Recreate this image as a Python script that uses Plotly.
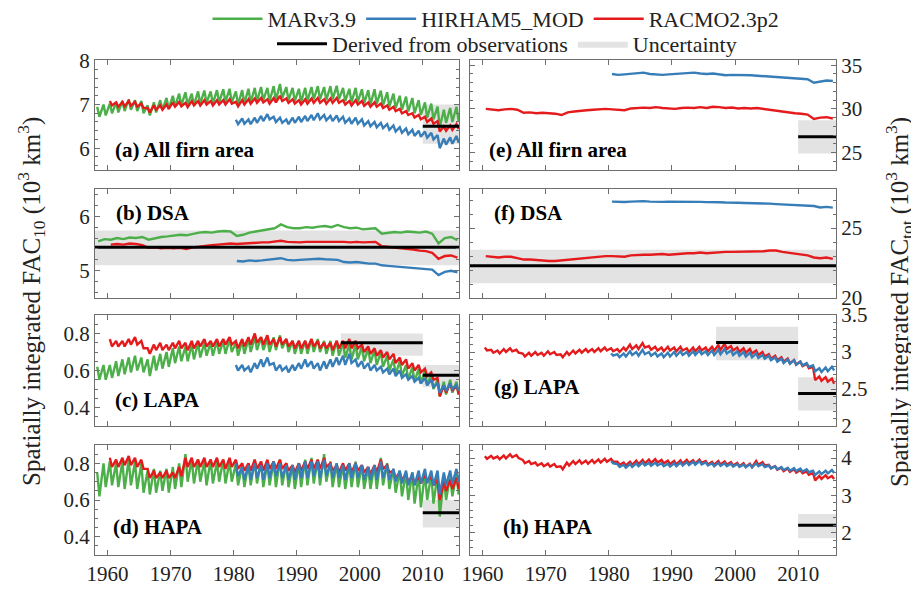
import plotly.graph_objects as go

# ---------------- data ----------------
years_mar = list(range(1958, 2016))
years_racmo = list(range(1960, 2016))
years_hirham = list(range(1980, 2016))

# (a) All firn area, FAC10 (seasonal highs / lows)
mar_a_hi = [6.95, 7.00,
            7.02, 7.05, 7.08, 7.12, 7.10, 7.08, 6.98, 7.05, 7.10, 7.15,
            7.20, 7.25, 7.28, 7.25, 7.30, 7.32, 7.30, 7.33, 7.35, 7.36,
            7.30, 7.33, 7.36, 7.38, 7.40, 7.38, 7.42, 7.47, 7.40, 7.38,
            7.36, 7.38, 7.40, 7.42, 7.40, 7.42, 7.43, 7.38, 7.36, 7.38,
            7.35, 7.33, 7.35, 7.32, 7.28, 7.25, 7.20, 7.18, 7.15, 7.10,
            7.05, 7.02, 6.95, 6.88, 6.92, 6.95]
mar_a_lo = [6.72, 6.75,
            6.80, 6.82, 6.85, 6.88, 6.85, 6.80, 6.75, 6.82, 6.88, 6.90,
            6.95, 6.98, 7.00, 6.98, 7.02, 7.04, 7.02, 7.05, 7.06, 7.05,
            7.00, 7.03, 7.05, 7.08, 7.10, 7.08, 7.10, 7.15, 7.10, 7.08,
            7.06, 7.08, 7.12, 7.12, 7.10, 7.12, 7.12, 7.08, 7.05, 7.06,
            7.03, 7.00, 7.02, 6.98, 6.95, 6.92, 6.88, 6.84, 6.80, 6.76,
            6.70, 6.66, 6.48, 6.58, 6.60, 6.62]
racmo_a_hi = [7.08, 7.05, 7.06, 7.08, 7.06, 7.02, 6.92, 6.98, 6.98, 7.00,
              7.05, 7.06, 7.04, 7.08, 7.08, 7.10, 7.08, 7.10, 7.10, 7.12,
              7.06, 7.10, 7.12, 7.14, 7.15, 7.12, 7.15, 7.20, 7.14, 7.12,
              7.10, 7.12, 7.14, 7.15, 7.12, 7.14, 7.15, 7.10, 7.08, 7.10,
              7.08, 7.05, 7.05, 7.02, 6.98, 6.95, 6.90, 6.85, 6.80, 6.76,
              6.72, 6.68, 6.62, 6.50, 6.52, 6.55]
racmo_a_lo = [6.98, 6.95, 6.96, 6.97, 6.95, 6.92, 6.82, 6.88, 6.88, 6.90,
              6.95, 6.96, 6.94, 6.98, 6.98, 7.00, 6.98, 7.00, 7.00, 7.02,
              6.96, 7.00, 7.02, 7.04, 7.05, 7.02, 7.05, 7.08, 7.04, 7.02,
              7.00, 7.02, 7.04, 7.04, 7.02, 7.04, 7.04, 7.00, 6.98, 7.00,
              6.97, 6.95, 6.95, 6.92, 6.88, 6.85, 6.80, 6.76, 6.70, 6.66,
              6.60, 6.56, 6.38, 6.40, 6.42, 6.44]
hirham_a_hi = [6.65, 6.68, 6.66, 6.70, 6.74, 6.78, 6.72, 6.70, 6.66, 6.70,
               6.72, 6.74, 6.76, 6.80, 6.76, 6.74, 6.75, 6.72, 6.68, 6.70,
               6.66, 6.62, 6.60, 6.58, 6.55, 6.52, 6.48, 6.45, 6.42, 6.40,
               6.38, 6.35, 6.30, 6.22, 6.25, 6.28]
hirham_a_lo = [6.55, 6.56, 6.55, 6.58, 6.62, 6.66, 6.60, 6.58, 6.55, 6.58,
               6.60, 6.62, 6.64, 6.66, 6.64, 6.62, 6.62, 6.58, 6.56, 6.56,
               6.52, 6.50, 6.48, 6.46, 6.42, 6.38, 6.35, 6.32, 6.28, 6.26,
               6.24, 6.20, 6.00, 6.08, 6.10, 6.12]

# (b) DSA, FAC10 (annual values)
mar_b = [5.54, 5.58,
         5.57, 5.60, 5.58, 5.61, 5.60, 5.62, 5.57, 5.60, 5.62, 5.63,
         5.64, 5.66, 5.65, 5.68, 5.70, 5.71, 5.70, 5.72, 5.73, 5.72,
         5.64, 5.66, 5.70, 5.72, 5.74, 5.76, 5.78, 5.85, 5.80, 5.78,
         5.78, 5.80, 5.79, 5.81, 5.82, 5.80, 5.84, 5.80, 5.78, 5.79,
         5.76, 5.77, 5.78, 5.68, 5.70, 5.71, 5.70, 5.72, 5.71, 5.70,
         5.72, 5.68, 5.50, 5.60, 5.62, 5.56]
racmo_b = [5.48, 5.49, 5.48, 5.50, 5.49, 5.47, 5.42, 5.43, 5.41, 5.42,
           5.41, 5.42, 5.40, 5.43, 5.44, 5.46, 5.47, 5.48, 5.49, 5.50,
           5.49, 5.50, 5.51, 5.51, 5.52, 5.52, 5.53, 5.55, 5.53, 5.52,
           5.52, 5.53, 5.53, 5.54, 5.53, 5.53, 5.54, 5.53, 5.52, 5.53,
           5.52, 5.52, 5.53, 5.45, 5.44, 5.43, 5.42, 5.40, 5.39, 5.37,
           5.36, 5.33, 5.22, 5.27, 5.28, 5.24]
hirham_b = [5.18, 5.17, 5.19, 5.18, 5.19, 5.20, 5.21, 5.23, 5.20, 5.19,
            5.20, 5.21, 5.21, 5.22, 5.21, 5.20, 5.20, 5.16, 5.15, 5.16,
            5.14, 5.13, 5.13, 5.10, 5.09, 5.08, 5.07, 5.06, 5.05, 5.04,
            5.04, 5.02, 4.92, 4.98, 5.00, 4.97]

# (c) LAPA, FAC10 (seasonal highs / lows)
mar_c_hi = [0.62, 0.63,
            0.63, 0.65, 0.66, 0.67, 0.68, 0.67, 0.66, 0.68, 0.69, 0.70,
            0.72, 0.73, 0.73, 0.74, 0.75, 0.75, 0.75, 0.76, 0.76, 0.77,
            0.75, 0.76, 0.77, 0.78, 0.78, 0.77, 0.78, 0.79, 0.77, 0.76,
            0.76, 0.76, 0.77, 0.77, 0.76, 0.76, 0.76, 0.75, 0.74, 0.74,
            0.73, 0.72, 0.71, 0.70, 0.68, 0.66, 0.65, 0.63, 0.62, 0.61,
            0.60, 0.58, 0.55, 0.54, 0.55, 0.54]
mar_c_lo = [0.55, 0.55,
            0.56, 0.57, 0.58, 0.59, 0.60, 0.59, 0.57, 0.60, 0.61, 0.62,
            0.64, 0.65, 0.65, 0.66, 0.67, 0.68, 0.68, 0.69, 0.69, 0.70,
            0.68, 0.69, 0.70, 0.71, 0.71, 0.70, 0.71, 0.72, 0.70, 0.69,
            0.69, 0.69, 0.70, 0.70, 0.69, 0.68, 0.68, 0.67, 0.66, 0.66,
            0.65, 0.64, 0.63, 0.62, 0.60, 0.58, 0.57, 0.55, 0.54, 0.53,
            0.52, 0.50, 0.46, 0.47, 0.48, 0.47]
racmo_c_hi = [0.77, 0.76, 0.76, 0.77, 0.78, 0.76, 0.72, 0.74, 0.75, 0.74,
              0.75, 0.76, 0.75, 0.76, 0.76, 0.77, 0.76, 0.77, 0.77, 0.78,
              0.76, 0.77, 0.78, 0.80, 0.78, 0.79, 0.77, 0.78, 0.77, 0.76,
              0.76, 0.76, 0.77, 0.76, 0.75, 0.75, 0.76, 0.76, 0.77, 0.76,
              0.74, 0.73, 0.72, 0.71, 0.70, 0.69, 0.67, 0.66, 0.64, 0.63,
              0.61, 0.59, 0.56, 0.52, 0.53, 0.52]
racmo_c_lo = [0.73, 0.73, 0.73, 0.74, 0.74, 0.72, 0.69, 0.71, 0.71, 0.71,
              0.72, 0.72, 0.71, 0.72, 0.73, 0.73, 0.73, 0.73, 0.74, 0.74,
              0.72, 0.73, 0.74, 0.75, 0.74, 0.74, 0.73, 0.74, 0.73, 0.72,
              0.72, 0.72, 0.73, 0.72, 0.72, 0.71, 0.72, 0.72, 0.72, 0.72,
              0.70, 0.69, 0.68, 0.67, 0.66, 0.64, 0.63, 0.61, 0.60, 0.59,
              0.57, 0.55, 0.46, 0.48, 0.49, 0.47]
hirham_c_hi = [0.63, 0.63, 0.62, 0.64, 0.66, 0.67, 0.64, 0.63, 0.62, 0.63,
               0.64, 0.66, 0.65, 0.64, 0.65, 0.66, 0.67, 0.68, 0.69, 0.66,
               0.65, 0.64, 0.63, 0.62, 0.61, 0.61, 0.60, 0.58, 0.57, 0.56,
               0.56, 0.55, 0.53, 0.52, 0.53, 0.52]
hirham_c_lo = [0.60, 0.60, 0.59, 0.61, 0.62, 0.63, 0.60, 0.60, 0.59, 0.60,
               0.61, 0.62, 0.61, 0.60, 0.61, 0.62, 0.63, 0.63, 0.64, 0.62,
               0.61, 0.60, 0.60, 0.59, 0.58, 0.57, 0.56, 0.55, 0.54, 0.53,
               0.52, 0.51, 0.48, 0.49, 0.50, 0.49]

# (d) HAPA, FAC10 (seasonal highs / lows)
mar_d_hi = [0.75, 0.80,
            0.81, 0.80, 0.81, 0.82, 0.81, 0.80, 0.76, 0.77, 0.76, 0.77,
            0.78, 0.80, 0.85, 0.82, 0.82, 0.81, 0.82, 0.81, 0.82, 0.81,
            0.80, 0.79, 0.80, 0.82, 0.81, 0.80, 0.81, 0.82, 0.80, 0.79,
            0.80, 0.82, 0.83, 0.82, 0.85, 0.81, 0.80, 0.79, 0.80, 0.81,
            0.79, 0.78, 0.79, 0.83, 0.80, 0.77, 0.76, 0.75, 0.75, 0.74,
            0.75, 0.74, 0.74, 0.72, 0.73, 0.74]
mar_d_lo = [0.62, 0.67,
            0.68, 0.67, 0.66, 0.68, 0.66, 0.64, 0.63, 0.64, 0.65, 0.64,
            0.66, 0.67, 0.70, 0.69, 0.70, 0.68, 0.69, 0.70, 0.69, 0.70,
            0.68, 0.67, 0.68, 0.69, 0.67, 0.68, 0.67, 0.68, 0.67, 0.66,
            0.67, 0.68, 0.69, 0.68, 0.70, 0.67, 0.67, 0.66, 0.67, 0.67,
            0.66, 0.66, 0.66, 0.68, 0.66, 0.64, 0.62, 0.60, 0.58, 0.56,
            0.60, 0.58, 0.51, 0.60, 0.62, 0.63]
racmo_d_hi = [0.83, 0.82, 0.83, 0.84, 0.83, 0.82, 0.77, 0.76, 0.75, 0.76,
              0.75, 0.78, 0.83, 0.83, 0.82, 0.83, 0.82, 0.83, 0.82, 0.83,
              0.82, 0.80, 0.80, 0.82, 0.81, 0.82, 0.81, 0.82, 0.80, 0.79,
              0.80, 0.81, 0.82, 0.82, 0.83, 0.80, 0.79, 0.80, 0.80, 0.80,
              0.79, 0.78, 0.79, 0.82, 0.79, 0.76, 0.75, 0.74, 0.73, 0.73,
              0.74, 0.73, 0.71, 0.70, 0.71, 0.72]
racmo_d_lo = [0.78, 0.78, 0.79, 0.79, 0.78, 0.77, 0.72, 0.72, 0.72, 0.72,
              0.72, 0.73, 0.78, 0.78, 0.78, 0.78, 0.78, 0.78, 0.77, 0.78,
              0.77, 0.76, 0.76, 0.77, 0.76, 0.77, 0.77, 0.77, 0.76, 0.75,
              0.76, 0.77, 0.77, 0.77, 0.78, 0.76, 0.75, 0.76, 0.75, 0.76,
              0.75, 0.74, 0.75, 0.77, 0.75, 0.72, 0.71, 0.70, 0.69, 0.69,
              0.70, 0.68, 0.60, 0.65, 0.66, 0.66]
hirham_d_hi = [0.80, 0.78, 0.79, 0.80, 0.79, 0.80, 0.81, 0.80, 0.79, 0.79,
               0.80, 0.81, 0.81, 0.81, 0.82, 0.80, 0.80, 0.79, 0.80, 0.80,
               0.79, 0.78, 0.79, 0.81, 0.79, 0.77, 0.76, 0.76, 0.75, 0.76,
               0.77, 0.76, 0.76, 0.75, 0.76, 0.77]
hirham_d_lo = [0.73, 0.71, 0.71, 0.72, 0.71, 0.72, 0.73, 0.72, 0.71, 0.71,
               0.72, 0.72, 0.73, 0.72, 0.73, 0.72, 0.72, 0.71, 0.72, 0.72,
               0.71, 0.71, 0.71, 0.72, 0.71, 0.70, 0.69, 0.68, 0.68, 0.69,
               0.69, 0.68, 0.63, 0.68, 0.69, 0.70]

# (e) All firn area, FACtot (annual values)
racmo_e = [30.0, 29.9, 29.85, 29.95, 30.0, 29.9, 29.55, 29.6, 29.5, 29.55,
           29.5, 29.45, 29.3, 29.6, 29.7, 29.8, 29.85, 29.9, 29.95, 30.0,
           29.95, 29.9, 29.85, 30.05, 30.1, 30.15, 30.1, 30.2, 30.1, 30.05,
           30.0, 30.1, 30.15, 30.1, 30.2, 30.1, 30.25, 30.2, 30.1, 30.15,
           30.05, 30.1, 30.05, 30.1, 30.0, 29.9, 29.8, 29.7, 29.55, 29.5,
           29.45, 29.35, 28.85, 29.0, 29.05, 28.9]
hirham_e = [34.0, 33.9, 33.95, 34.0, 34.1, 34.15, 34.0, 33.95, 33.9, 33.95,
            34.0, 34.05, 34.1, 34.15, 34.05, 34.0, 34.05, 33.95, 33.85, 33.9,
            33.9, 33.85, 33.85, 33.8, 33.75, 33.7, 33.6, 33.55, 33.5, 33.5,
            33.45, 33.4, 33.0, 33.15, 33.25, 33.2]

# (f) DSA, FACtot (annual values)
racmo_f = [23.0, 22.95, 22.9, 22.95, 22.95, 22.85, 22.75, 22.75, 22.7, 22.7,
           22.65, 22.65, 22.7, 22.75, 22.8, 22.85, 22.9, 22.95, 23.0, 23.0,
           23.0, 22.95, 22.95, 23.05, 23.1, 23.1, 23.1, 23.15, 23.15, 23.1,
           23.15, 23.2, 23.2, 23.2, 23.25, 23.2, 23.25, 23.3, 23.3, 23.3,
           23.3, 23.35, 23.3, 23.35, 23.35, 23.4, 23.4, 23.3, 23.25, 23.2,
           23.15, 23.05, 22.9, 22.85, 22.9, 22.8]
hirham_f = [26.9, 26.88, 26.87, 26.9, 26.92, 26.93, 26.9, 26.88, 26.88, 26.9,
            26.9, 26.9, 26.92, 26.9, 26.88, 26.86, 26.88, 26.85, 26.83, 26.84,
            26.82, 26.8, 26.8, 26.78, 26.76, 26.75, 26.72, 26.7, 26.68, 26.68,
            26.65, 26.62, 26.58, 26.48, 26.52, 26.47]

# (g) LAPA, FACtot (seasonal highs / lows)
racmo_g_hi = [3.06, 3.03, 3.02, 3.04, 3.05, 3.03, 2.98, 2.99, 3.00, 2.99,
              3.01, 3.00, 2.97, 3.00, 3.02, 3.03, 3.04, 3.04, 3.05, 3.06,
              3.05, 3.04, 3.06, 3.10, 3.09, 3.12, 3.08, 3.07, 3.06, 3.07,
              3.06, 3.07, 3.05, 3.06, 3.07, 3.06, 3.07, 3.09, 3.11, 3.08,
              3.06, 3.05, 3.04, 3.02, 3.00, 2.97, 2.95, 2.93, 2.91, 2.89,
              2.87, 2.84, 2.80, 2.67, 2.66, 2.64]
racmo_g_lo = [3.02, 2.99, 2.98, 3.00, 3.01, 2.99, 2.94, 2.95, 2.96, 2.95,
              2.97, 2.96, 2.93, 2.96, 2.98, 2.99, 3.00, 3.00, 3.01, 3.02,
              3.01, 3.00, 3.02, 3.04, 3.04, 3.06, 3.03, 3.02, 3.01, 3.02,
              3.01, 3.02, 3.00, 3.01, 3.02, 3.01, 3.02, 3.03, 3.04, 3.02,
              3.00, 2.99, 2.98, 2.96, 2.94, 2.91, 2.89, 2.87, 2.85, 2.83,
              2.81, 2.78, 2.62, 2.61, 2.60, 2.57]
hirham_g_hi = [2.98, 2.97, 2.98, 3.01, 3.00, 3.03, 3.00, 2.99, 2.98, 2.99,
               3.00, 3.01, 3.00, 3.01, 3.02, 3.01, 3.02, 3.03, 3.04, 3.02,
               3.01, 3.00, 2.99, 2.98, 2.96, 2.95, 2.93, 2.91, 2.90, 2.89,
               2.87, 2.85, 2.82, 2.78, 2.79, 2.80]
hirham_g_lo = [2.95, 2.93, 2.94, 2.96, 2.95, 2.97, 2.95, 2.94, 2.93, 2.94,
               2.95, 2.96, 2.95, 2.96, 2.97, 2.96, 2.96, 2.97, 2.98, 2.96,
               2.95, 2.94, 2.93, 2.92, 2.91, 2.89, 2.87, 2.85, 2.84, 2.83,
               2.82, 2.80, 2.74, 2.73, 2.74, 2.75]

# (h) HAPA, FACtot (seasonal highs / lows)
racmo_h_hi = [4.05, 4.06, 4.04, 4.07, 4.10, 4.08, 3.95, 3.92, 3.88, 3.86,
              3.85, 3.84, 3.78, 3.88, 3.92, 3.94, 3.93, 3.95, 3.96, 3.98,
              3.98, 3.90, 3.88, 3.90, 3.93, 3.95, 3.96, 3.97, 3.95, 3.93,
              3.92, 3.94, 3.95, 3.94, 3.96, 3.92, 3.90, 3.92, 3.91, 3.89,
              3.87, 3.86, 3.85, 3.92, 3.89, 3.82, 3.78, 3.74, 3.72, 3.70,
              3.68, 3.64, 3.60, 3.52, 3.54, 3.52]
racmo_h_lo = [3.98, 3.99, 3.97, 3.99, 4.02, 4.00, 3.86, 3.84, 3.80, 3.78,
              3.77, 3.76, 3.70, 3.80, 3.84, 3.85, 3.85, 3.87, 3.88, 3.90,
              3.90, 3.82, 3.80, 3.82, 3.84, 3.86, 3.87, 3.88, 3.86, 3.84,
              3.83, 3.85, 3.86, 3.85, 3.87, 3.83, 3.82, 3.83, 3.82, 3.80,
              3.78, 3.77, 3.76, 3.82, 3.80, 3.73, 3.69, 3.65, 3.63, 3.61,
              3.59, 3.55, 3.40, 3.44, 3.46, 3.44]
hirham_h_hi = [3.92, 3.84, 3.82, 3.84, 3.86, 3.88, 3.87, 3.88, 3.86, 3.85,
               3.86, 3.88, 3.89, 3.90, 3.92, 3.88, 3.86, 3.87, 3.86, 3.85,
               3.84, 3.83, 3.83, 3.86, 3.84, 3.80, 3.78, 3.76, 3.74, 3.73,
               3.72, 3.70, 3.66, 3.64, 3.66, 3.68]
hirham_h_lo = [3.86, 3.76, 3.74, 3.76, 3.78, 3.80, 3.79, 3.80, 3.78, 3.77,
               3.78, 3.80, 3.81, 3.82, 3.83, 3.80, 3.78, 3.79, 3.78, 3.77,
               3.76, 3.75, 3.75, 3.78, 3.76, 3.72, 3.70, 3.68, 3.66, 3.65,
               3.64, 3.62, 3.55, 3.57, 3.59, 3.60]

# Observation-derived estimates and their uncertainty
obs_panel = ["a", "b", "c", "c", "d", "e", "f", "g", "g", "h"]
obs_start = [2010, 1958, 1997, 2010, 2010, 2010, 1958, 1997, 2010, 2010]
obs_end = [2016, 2016, 2010, 2016, 2016, 2016, 2016, 2010, 2016, 2016]
obs_value = [6.5, 5.43, 0.75, 0.575, 0.53, 26.8, 22.3, 3.13, 2.44, 2.2]
obs_low = [6.1, 5.1, 0.68, 0.51, 0.45, 24.9, 21.05, 2.89, 2.21, 1.85]
obs_high = [7.0, 5.74, 0.80, 0.63, 0.60, 28.7, 23.45, 3.34, 2.66, 2.5]

panel_labels = ["(a) All firn area", "(e) All firn area", "(b) DSA", "(f) DSA",
                "(c) LAPA", "(g) LAPA", "(d) HAPA", "(h) HAPA"]
legend_names = ["MARv3.9", "HIRHAM5_MOD", "RACMO2.3p2",
                "Derived from observations", "Uncertainty"]

# ---------------- styling / layout ----------------
C_MAR = "#4daf4a"
C_HIR = "#377eb8"
C_RAC = "#e41a1c"
C_UNC = "#e3e3e3"
FONT = "Liberation Serif, Times New Roman, Tinos, DejaVu Serif, serif"
OFF = 8                      # page offset of the plot inside the browser page
W, H = 919 - OFF, 590 - OFF


def fx(px):
    return (px - OFF) / W


def fy(py):
    return 1 - (py - OFF) / H


# panel letter -> axis index
ax_of = {"a": 1, "e": 2, "b": 3, "f": 4, "c": 5, "g": 6, "d": 7, "h": 8}
col_px = [(95, 459), (470, 836)]
row_px = [(60, 170), (189, 298), (315, 426), (445, 555)]


def seasonal(years, hi, lo):
    xs, ys = [], []
    for yr, h, l in zip(years, hi, lo):
        xs += [yr + 0.35, yr + 0.7]
        ys += [h, l]
    return xs, ys


def annual(years, vals):
    return [yr + 0.5 for yr in years], list(vals)


fig = go.Figure()
shown = set()


def add_line(idx, xy, color, name, rank):
    first = name not in shown
    shown.add(name)
    fig.add_trace(go.Scatter(
        x=xy[0], y=xy[1], mode="lines", name=name,
        line=dict(color=color, width=2.4),
        xaxis=f"x{idx}", yaxis=f"y{idx}",
        showlegend=first, legend="legend", legendrank=rank,
        hoverinfo="skip"))


# uncertainty bands first (background)
for p, x0, x1, v, lo, hi in zip(obs_panel, obs_start, obs_end, obs_value, obs_low, obs_high):
    i = ax_of[p]
    first = "unc" not in shown
    shown.add("unc")
    fig.add_trace(go.Scatter(
        x=[x0, x1, x1, x0, x0], y=[lo, lo, hi, hi, lo], mode="lines",
        fill="toself", fillcolor=C_UNC, line=dict(width=0, color=C_UNC),
        name=legend_names[4], showlegend=first, legend="legend2", legendrank=2,
        xaxis=f"x{i}", yaxis=f"y{i}", hoverinfo="skip"))

# model series
series = [
    ("a", seasonal(years_mar, mar_a_hi, mar_a_lo), C_MAR, 0, 1),
    ("a", seasonal(years_racmo, racmo_a_hi, racmo_a_lo), C_RAC, 2, 3),
    ("a", seasonal(years_hirham, hirham_a_hi, hirham_a_lo), C_HIR, 1, 2),
    ("b", annual(years_mar, mar_b), C_MAR, 0, 1),
    ("b", annual(years_racmo, racmo_b), C_RAC, 2, 3),
    ("b", annual(years_hirham, hirham_b), C_HIR, 1, 2),
    ("c", seasonal(years_mar, mar_c_hi, mar_c_lo), C_MAR, 0, 1),
    ("c", seasonal(years_racmo, racmo_c_hi, racmo_c_lo), C_RAC, 2, 3),
    ("c", seasonal(years_hirham, hirham_c_hi, hirham_c_lo), C_HIR, 1, 2),
    ("d", seasonal(years_mar, mar_d_hi, mar_d_lo), C_MAR, 0, 1),
    ("d", seasonal(years_racmo, racmo_d_hi, racmo_d_lo), C_RAC, 2, 3),
    ("d", seasonal(years_hirham, hirham_d_hi, hirham_d_lo), C_HIR, 1, 2),
    ("e", annual(years_racmo, racmo_e), C_RAC, 2, 3),
    ("e", annual(years_hirham, hirham_e), C_HIR, 1, 2),
    ("f", annual(years_racmo, racmo_f), C_RAC, 2, 3),
    ("f", annual(years_hirham, hirham_f), C_HIR, 1, 2),
    ("g", seasonal(years_racmo, racmo_g_hi, racmo_g_lo), C_RAC, 2, 3),
    ("g", seasonal(years_hirham, hirham_g_hi, hirham_g_lo), C_HIR, 1, 2),
    ("h", seasonal(years_racmo, racmo_h_hi, racmo_h_lo), C_RAC, 2, 3),
    ("h", seasonal(years_hirham, hirham_h_hi, hirham_h_lo), C_HIR, 1, 2),
]
for p, xy, color, ni, rank in series:
    add_line(ax_of[p], xy, color, legend_names[ni], rank)

# observation lines on top
for p, x0, x1, v in zip(obs_panel, obs_start, obs_end, obs_value):
    i = ax_of[p]
    first = "obs" not in shown
    shown.add("obs")
    fig.add_trace(go.Scatter(
        x=[x0, x1], y=[v, v], mode="lines", line=dict(color="black", width=3),
        name=legend_names[3], showlegend=first, legend="legend2", legendrank=1,
        xaxis=f"x{i}", yaxis=f"y{i}", hoverinfo="skip"))

# axes
y_ranges = {"a": [5.5, 8.02], "b": [4.5, 6.5], "c": [0.3, 0.9], "d": [0.3, 0.9],
            "e": [23, 35.6], "f": [20, 27.8], "g": [2, 3.5], "h": [1.4, 4.35]}
y_ticks = {"a": [6, 7, 8], "b": [5, 6], "c": [0.4, 0.6, 0.8], "d": [0.4, 0.6, 0.8],
           "e": [25, 30, 35], "f": [20, 25], "g": [2, 2.5, 3, 3.5], "h": [2, 3, 4]}
y_minor = {"a": 0.2, "b": 0.2, "c": 0.05, "d": 0.05, "e": 1, "f": 1, "g": 0.1, "h": 0.2}
x_years = [1960, 1970, 1980, 1990, 2000, 2010]

layout = dict(
    width=W, height=H, margin=dict(l=0, r=0, t=0, b=0, autoexpand=False),
    paper_bgcolor="white", plot_bgcolor="white",
    font=dict(family=FONT, size=21, color="black"),
    showlegend=True,
)
AX_COLOR = "#6e6e6e"
for p, i in ax_of.items():
    col = (i - 1) % 2
    row = (i - 1) // 2
    x0p, x1p = col_px[col]
    y0p, y1p = row_px[row]
    layout[f"xaxis{i}"] = dict(
        domain=[fx(x0p), fx(x1p)], anchor=f"y{i}",
        range=[1958, 2015.75] if col == 0 else [1958, 2016],
        tickvals=x_years, ticktext=[str(v) for v in x_years],
        showticklabels=(row == 3), ticks="inside", ticklen=5, tickcolor=AX_COLOR,
        showline=True, linecolor=AX_COLOR, linewidth=1, mirror="allticks",
        showgrid=False, zeroline=False,
        tickfont=dict(family=FONT, size=21, color="#222"))
    layout[f"yaxis{i}"] = dict(
        domain=[fy(y1p), fy(y0p)], anchor=f"x{i}",
        range=y_ranges[p], tickvals=y_ticks[p],
        side="left" if col == 0 else "right",
        ticks="inside", ticklen=5, tickcolor=AX_COLOR,
        minor=dict(dtick=y_minor[p], ticks="inside", ticklen=3, tickcolor=AX_COLOR),
        showline=True, linecolor=AX_COLOR, linewidth=1, mirror="allticks",
        showgrid=False, zeroline=False,
        tickfont=dict(family=FONT, size=21, color="#222"))

layout["legend"] = dict(
    orientation="h", x=fx(496), xanchor="center", y=fy(-2), yanchor="top",
    font=dict(family=FONT, size=22, color="#222"), bgcolor="rgba(0,0,0,0)",
    itemwidth=50, tracegroupgap=0)
layout["legend2"] = dict(
    orientation="h", x=fx(507), xanchor="center", y=fy(23), yanchor="top",
    font=dict(family=FONT, size=22, color="#222"), bgcolor="rgba(0,0,0,0)",
    itemwidth=50, tracegroupgap=0)

# panel labels
label_pos = {"a": (113, 150), "e": (487, 150), "b": (114, 213), "f": (492, 213),
             "c": (113, 400), "g": (492, 387), "d": (111, 527), "h": (501, 527)}
annotations = []
for lab in panel_labels:
    p = lab[1]
    px, py = label_pos[p]
    annotations.append(dict(
        x=fx(px), y=fy(py), xref="paper", yref="paper",
        xanchor="left", yanchor="middle", showarrow=False,
        text=f"<b>{lab}</b>", font=dict(family=FONT, size=21, color="black")))

annotations.append(dict(
    x=fx(31), y=fy(302), xref="paper", yref="paper", showarrow=False,
    textangle=-90, xanchor="center", yanchor="middle",
    text="Spatially integrated FAC<sub>10</sub> (10<sup>3</sup> km<sup>3</sup>)",
    font=dict(family=FONT, size=25, color="#222")))
annotations.append(dict(
    x=fx(899), y=fy(302), xref="paper", yref="paper", showarrow=False,
    textangle=-90, xanchor="center", yanchor="middle",
    text="Spatially integrated FAC<sub>tot</sub> (10<sup>3</sup> km<sup>3</sup>)",
    font=dict(family=FONT, size=25, color="#222")))
layout["annotations"] = annotations

fig.update_layout(**layout)
fig.write_html("out.html")
